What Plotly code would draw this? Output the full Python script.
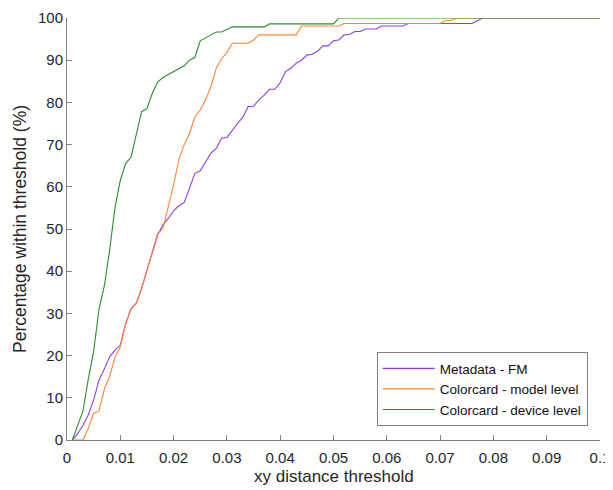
import plotly.graph_objects as go

# Metadata - FM
fm_x = [0.001, 0.002, 0.003, 0.004, 0.005, 0.006, 0.007, 0.008, 0.009, 0.010,
        0.011, 0.012, 0.013, 0.014, 0.015, 0.016, 0.017, 0.018, 0.019, 0.020,
        0.021, 0.022, 0.023, 0.024, 0.025, 0.026, 0.027, 0.028, 0.029, 0.030,
        0.031, 0.032, 0.033, 0.034, 0.035, 0.036, 0.037, 0.038, 0.039, 0.040,
        0.041, 0.042, 0.043, 0.044, 0.045, 0.046, 0.047, 0.048, 0.049, 0.050,
        0.051, 0.052, 0.053, 0.054, 0.055, 0.056, 0.058, 0.059, 0.063, 0.064,
        0.076, 0.077, 0.078, 0.100]
fm_y = [0, 1.5, 3.5, 6.0, 9.5, 14.2, 16.8, 19.7, 21.3, 22.5,
        27.5, 31.0, 32.5, 35.9, 40.2, 44.5, 48.5, 51.0, 52.5, 54.3,
        55.5, 56.3, 60.0, 63.2, 63.8, 66.0, 68.0, 69.1, 71.5, 71.7,
        73.4, 75.0, 76.5, 79.0, 79.1, 80.6, 81.7, 83.1, 83.1, 84.7,
        87.3, 88.1, 89.3, 90.0, 91.2, 91.4, 92.1, 93.4, 93.4, 94.6,
        94.8, 96.0, 96.1, 96.8, 96.8, 97.4, 97.4, 98.1, 98.1, 98.7,
        98.7, 99.4, 100, 100]

# Colorcard - model level
model_x = [0.001, 0.002, 0.003, 0.004, 0.005, 0.006, 0.007, 0.008, 0.009, 0.010,
           0.011, 0.012, 0.013, 0.014, 0.015, 0.016, 0.017, 0.018, 0.019, 0.020,
           0.021, 0.022, 0.023, 0.024, 0.025, 0.026, 0.027, 0.028, 0.029, 0.030,
           0.031, 0.034, 0.035, 0.036, 0.043, 0.044, 0.051, 0.052, 0.070, 0.071,
           0.072, 0.073, 0.100]
model_y = [0, 0, 0, 2.8, 6.3, 6.9, 12.0, 15.0, 19.7, 22.1,
           27.5, 31.2, 32.3, 35.9, 40.2, 44.5, 48.9, 50.1, 55.3, 60.5,
           66.5, 70.0, 72.7, 76.6, 78.2, 80.6, 83.7, 88.1, 90.4, 91.8,
           94.0, 94.0, 94.8, 96.0, 96.0, 98.1, 98.1, 98.7, 98.7, 99.4,
           99.4, 100, 100]

# Colorcard - device level
device_x = [0.001, 0.002, 0.003, 0.004, 0.005, 0.006, 0.007, 0.008, 0.009, 0.010,
            0.011, 0.012, 0.013, 0.014, 0.015, 0.016, 0.017, 0.018, 0.019, 0.020,
            0.021, 0.022, 0.023, 0.024, 0.025, 0.026, 0.027, 0.028, 0.029, 0.030,
            0.031, 0.037, 0.038, 0.050, 0.051, 0.100]
device_y = [0, 3.5, 6.9, 14.5, 21.0, 31.0, 36.5, 45.0, 55.0, 61.5,
            65.5, 67.0, 72.5, 77.8, 78.5, 82.1, 84.8, 85.9, 86.6, 87.3,
            88.0, 88.7, 90.0, 90.7, 94.6, 95.4, 96.0, 96.7, 96.7, 97.3,
            97.9, 97.9, 98.6, 98.6, 100, 100]

series_names = ["Metadata - FM", "Colorcard - model level", "Colorcard - device level"]
colors = ["#8a3fe6", "#ff8533", "#2a8f2a"]
x_title = "xy distance threshold"
y_title = "Percentage within threshold (%)"

FONT = "Liberation Sans, Arial, sans-serif"

fig = go.Figure()
for xs, ys, name, c in zip([fm_x, model_x, device_x], [fm_y, model_y, device_y],
                           series_names, colors):
    fig.add_trace(go.Scatter(x=xs, y=ys, mode="lines", name=name,
                             line=dict(color=c, width=1.1)))

axis_common = dict(
    showline=True, linecolor="#808080", linewidth=1,
    ticks="inside", ticklen=5, tickcolor="#808080", tickwidth=1,
    showgrid=False, zeroline=False, mirror=False, automargin=False,
    tickfont=dict(family=FONT, size=15, color="#262626"),
)

# page body has an 8px default margin, so the figure is sized to fit in the window
fig.update_layout(
    width=605, height=482,
    margin=dict(l=59, r=13, t=10, b=50),
    paper_bgcolor="white", plot_bgcolor="white",
    font=dict(family=FONT, color="#262626"),
    xaxis=dict(range=[0, 0.1], dtick=0.01, tick0=0,
               ticklabelstandoff=4,
               **axis_common),
    yaxis=dict(range=[0, 100], dtick=10, tick0=0,
               title=dict(text=y_title, standoff=6,
                          font=dict(family=FONT, size=17.5, color="#262626")),
               **axis_common),
    legend=dict(x=0.977, y=0.033, xanchor="right", yanchor="bottom",
                bgcolor="white", bordercolor="#808080", borderwidth=1,
                font=dict(family=FONT, size=13.5, color="#111111"),
                tracegroupgap=0, itemwidth=52),
    showlegend=True,
)
fig.add_annotation(text=x_title, xref="paper", yref="paper", x=0.5, y=-0.087,
                   xanchor="center", yanchor="middle", showarrow=False,
                   font=dict(family=FONT, size=17, color="#262626"))

fig.write_html("out.html")
